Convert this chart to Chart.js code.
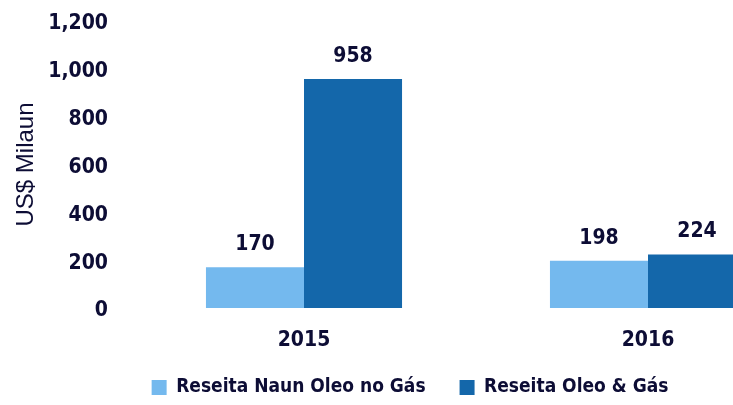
<!DOCTYPE html>
<html>
<head>
<meta charset="utf-8">
<script src="https://cdn.jsdelivr.net/npm/chart.js@4/dist/chart.umd.min.js"></script>
<style>
  html, body { margin: 0; padding: 0; background: #fff; overflow: hidden; width: 733px; height: 405px; }
  #wrap { width: 830px; height: 407px; }
</style>
</head>
<body>
<div id="wrap"><canvas id="chart" width="830" height="407"></canvas></div>
<script>
const years = ["2015", "2016"];
const naunOleo = [170, 198];
const oleoGas = [958, 224];
const seriesNames = ["Reseita Naun Oleo no Gás", "Reseita Oleo & Gás"];
const yTicks = [0, 200, 400, 600, 800, 1000, 1200];

const textColor = "#0d0d35";
const condensed = "'DejaVu Sans Condensed', 'Liberation Sans Narrow', sans-serif";
const fontSize = 21;

// labels above the bars
const valueLabels = {
  id: "valueLabels",
  afterLayout(chart) {
    // let the year labels reach into the legend band without being clipped
    chart.scales.x.bottom += 16;
  },
  afterDatasetsDraw(chart) {
    const ctx = chart.ctx;
    ctx.save();
    ctx.font = "bold " + fontSize + "px " + condensed;
    ctx.fillStyle = textColor;
    ctx.textAlign = "center";
    ctx.textBaseline = "bottom";
    chart.data.datasets.forEach((ds, i) => {
      chart.getDatasetMeta(i).data.forEach((bar, j) => {
        ctx.fillText(ds.data[j].toLocaleString("en-US"), bar.x, bar.y - 12);
      });
    });
    ctx.restore();
  },
};

new Chart(document.getElementById("chart"), {
  type: "bar",
  data: {
    labels: years,
    datasets: [
      {
        label: seriesNames[0],
        data: naunOleo,
        backgroundColor: "#74b9ee",
        categoryPercentage: 0.57,
        barPercentage: 1,
      },
      {
        label: seriesNames[1],
        data: oleoGas,
        backgroundColor: "#1467aa",
        categoryPercentage: 0.57,
        barPercentage: 1,
      },
    ],
  },
  options: {
    responsive: false,
    animation: false,
    layout: { padding: { top: 21, right: 10, left: 0, bottom: 0 } },
    plugins: {
      legend: {
        position: "bottom",
        labels: {
          boxWidth: 15,
          boxHeight: 15,
          padding: 34,
          color: textColor,
          font: { family: condensed, size: 19, weight: "bold" },
        },
      },
      tooltip: { enabled: false },
    },
    scales: {
      x: {
        afterFit: (scale) => {
          scale.height = 36;
        },
        grid: { display: false, drawTicks: false },
        border: { display: false },
        ticks: {
          color: textColor,
          padding: 20,
          font: { family: condensed, size: fontSize, weight: "bold" },
        },
      },
      y: {
        min: 0,
        max: 1200,
        afterBuildTicks: (scale) => {
          scale.ticks = yTicks.map((v) => ({ value: v }));
        },
        afterFit: (scale) => {
          scale.width = 132;
          scale.paddingTop = 0;
          scale.paddingBottom = 0;
        },
        grid: { display: false, drawTicks: false },
        border: { display: false },
        ticks: {
          color: textColor,
          padding: 24,
          labelOffset: 3,
          font: { family: condensed, size: fontSize, weight: "bold" },
          callback: (v) => v.toLocaleString("en-US"),
        },
        title: {
          display: true,
          text: "US$ Milaun",
          color: textColor,
          padding: { top: 12, bottom: 0 },
          font: { family: "'Liberation Sans', Arial, sans-serif", size: 24 },
        },
      },
    },
  },
  plugins: [valueLabels],
});
</script>
</body>
</html>
